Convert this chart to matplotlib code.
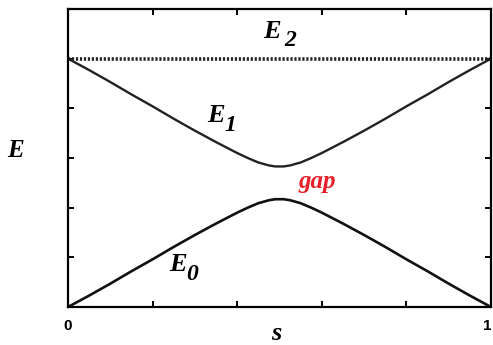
import matplotlib
matplotlib.use("Agg")
import matplotlib.pyplot as plt
import numpy as np

# values
s_vals = [0.0, 0.05, 0.1, 0.15, 0.2, 0.25, 0.3, 0.35, 0.375, 0.4, 0.425, 0.45, 0.475, 0.49,
          0.5, 0.51, 0.525, 0.55, 0.575, 0.6, 0.625, 0.65, 0.7, 0.75, 0.8, 0.85, 0.9, 0.95, 1.0]
e0_vals = [0.0, 0.23, 0.47, 0.72, 0.96, 1.21, 1.45, 1.68, 1.79, 1.90, 2.00, 2.09, 2.15, 2.17,
           2.17, 2.17, 2.15, 2.09, 2.00, 1.90, 1.79, 1.68, 1.45, 1.21, 0.96, 0.72, 0.47, 0.23, 0.0]
e1_vals = [5.0, 4.77, 4.53, 4.28, 4.04, 3.79, 3.55, 3.32, 3.21, 3.10, 3.00, 2.91, 2.85, 2.83,
           2.83, 2.83, 2.85, 2.91, 3.00, 3.10, 3.21, 3.32, 3.55, 3.79, 4.04, 4.28, 4.53, 4.77, 5.0]
e2_vals = [5.0, 5.0]
e2_s = [0.0, 1.0]

W, H = 493, 345
fig = plt.figure(figsize=(W / 100, H / 100), dpi=100)
ax = fig.add_axes([68 / W, 1 - 307 / H, (491 - 68) / W, (307 - 9) / H])

ax.plot(s_vals, e0_vals, color='#111111', lw=1.9, solid_capstyle='round')
ax.plot(s_vals, e1_vals, color='#222222', lw=1.7, solid_capstyle='round')
ax.plot(e2_s, e2_vals, color='#222222', lw=2.6, linestyle=(0, (0.6, 0.5)))

ax.set_xlim(0, 1)
ax.set_ylim(0, 6)
ax.set_xticks([0, 0.2, 0.4, 0.6, 0.8, 1.0])
ax.set_xticklabels(['0', '', '', '', '', '1'], fontfamily='Liberation Sans',
                   fontweight='bold', fontsize=11)
ax.set_yticks([0, 1, 2, 3, 4, 5, 6])
ax.set_yticklabels([])
ax.tick_params(direction='in', length=4, width=1.4, top=True, right=True, pad=8)
ax.tick_params(axis='x', pad=9)
ax.get_xticklabels()[-1].set_horizontalalignment('right')
for sp in ax.spines.values():
    sp.set_linewidth(1.6)

serif = dict(fontfamily='Liberation Serif', fontweight='bold', fontstyle='italic')


def level_label(x, y, sub, dx, dy):
    ax.text(x, y, 'E', fontsize=19, va='baseline', ha='left', **serif)
    ax.annotate(sub, xy=(x, y), xytext=(dx, dy), textcoords='offset points',
                fontsize=17, va='baseline', ha='left', **serif)


level_label(0.461, 5.42, '2', 15.5, -6)
level_label(0.329, 3.72, '1', 12.5, -6.5)
level_label(0.239, 0.72, '0', 12.5, -6.5)
ax.text(0.544, 2.40, 'gap', fontsize=18, va='baseline', ha='left', color='#e8202a', **serif)

fig.text(7 / W, 1 - 157 / H, 'E', fontsize=18, va='baseline', ha='left', **serif)
fig.text(271 / W, 1 - 340 / H, 's', fontsize=19, va='baseline', ha='left', **serif)

fig.savefig('out.png', dpi=100)
